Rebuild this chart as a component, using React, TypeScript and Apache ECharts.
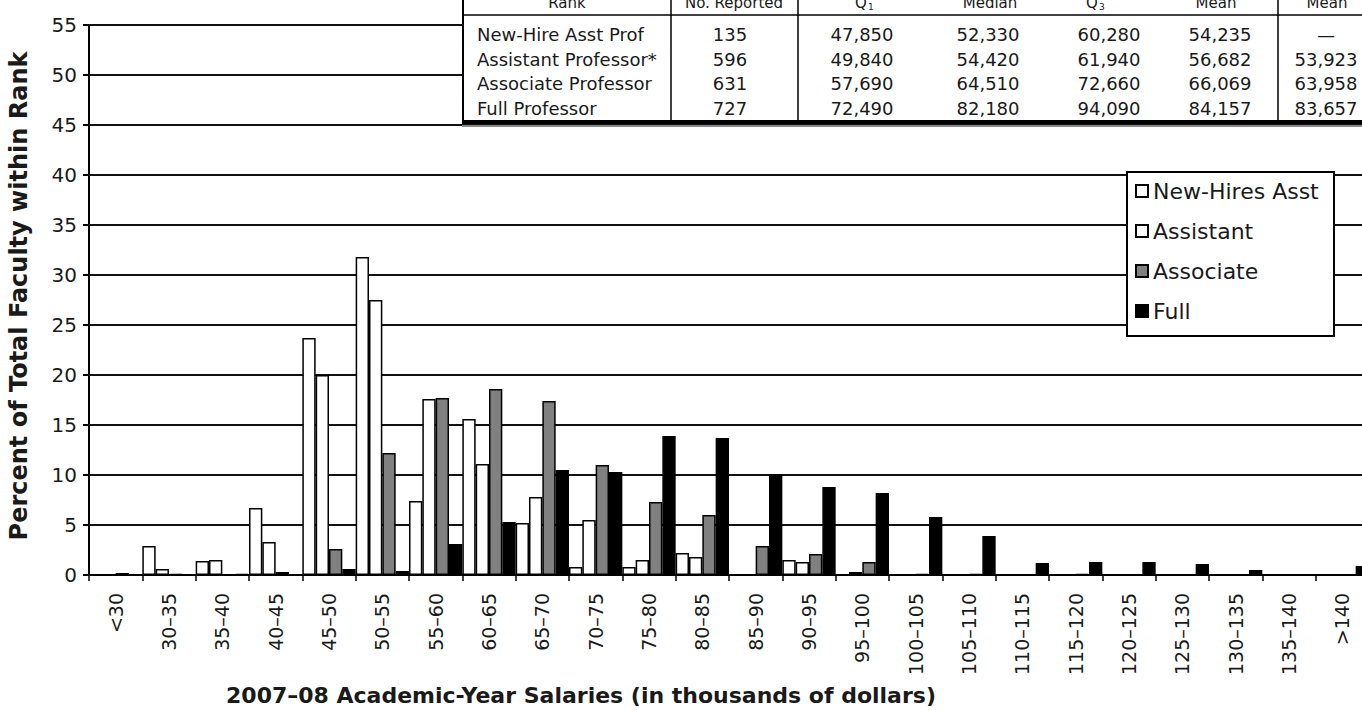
import React, { useEffect, useRef } from 'react';
import * as echarts from 'echarts';

const categories = ['<30', '30–35', '35–40', '40–45', '45–50', '50–55', '55–60', '60–65', '65–70', '70–75', '75–80', '80–85', '85–90', '90–95', '95–100', '100–105', '105–110', '110–115', '115–120', '120–125', '125–130', '130–135', '135–140', '>140'];
const newHireAsst = [0, 2.9, 1.4, 6.7, 23.7, 31.8, 7.4, 15.6, 5.2, 0.8, 0.8, 2.2, 0, 1.5, 0, 0, 0, 0, 0, 0, 0, 0, 0, 0];
const assistant = [0, 0.6, 1.5, 3.3, 20.0, 27.5, 17.6, 11.1, 7.8, 5.5, 1.5, 1.8, 0, 1.3, 0.3, 0, 0, 0, 0, 0, 0, 0, 0, 0];
const associate = [0.2, 0.1, 0, 0.3, 2.6, 12.2, 17.7, 18.6, 17.4, 11.0, 7.3, 6.0, 2.9, 2.1, 1.3, 0.1, 0.1, 0, 0.1, 0, 0, 0, 0, 0];
const full = [0, 0, 0.1, 0, 0.6, 0.4, 3.1, 5.3, 10.5, 10.3, 13.9, 13.7, 10.1, 8.8, 8.2, 5.8, 3.9, 1.2, 1.3, 1.3, 1.1, 0.5, 0, 0.9];

const seriesNames = ['New-Hires Asst', 'Assistant', 'Associate', 'Full'];
const yMin = 0;
const yMax = 55;
const yInterval = 5;
const yTitle = 'Percent of Total Faculty within Rank';
const xTitle = '2007–08 Academic-Year Salaries (in thousands of dollars)';

const tableRanks = ['New-Hire Asst Prof', 'Assistant Professor*', 'Associate Professor', 'Full Professor'];
const tableReported = ['135', '596', '631', '727'];
const tableQ1 = ['47,850', '49,840', '57,690', '72,490'];
const tableMedian = ['52,330', '54,420', '64,510', '82,180'];
const tableQ3 = ['60,280', '61,940', '72,660', '94,090'];
const tableMean = ['54,235', '56,682', '66,069', '84,157'];
const tableMean2 = ['—', '53,923', '63,958', '83,657'];

const FONT = '"DejaVu Sans", Verdana, sans-serif';
const TXT = '#1a1a1a';

function txt(text: string, x: number, y: number, size: number, align: string, extra: any = {}) {
  return {
    type: 'text',
    z: 60,
    style: {
      text, x, y, fill: TXT, fontSize: size, fontFamily: FONT,
      align, verticalAlign: 'middle', textAlign: align, textVerticalAlign: 'middle',
      ...extra,
    },
  };
}

function buildTable() {
  const els: any[] = [];
  els.push({ type: 'rect', z: 50, shape: { x: 463, y: -20, width: 960, height: 143 }, style: { fill: '#fff', stroke: '#000', lineWidth: 2 } });
  els.push({ type: 'line', z: 55, shape: { x1: 463, y1: 15, x2: 1420, y2: 15 }, style: { stroke: '#000', lineWidth: 1.5 } });
  [671, 798, 1278].forEach((x) => {
    els.push({ type: 'line', z: 55, shape: { x1: x, y1: -20, x2: x, y2: 123 }, style: { stroke: '#000', lineWidth: 1.5 } });
  });
  els.push({ type: 'line', z: 56, shape: { x1: 462, y1: 122, x2: 1420, y2: 122 }, style: { stroke: '#000', lineWidth: 4 } });
  els.push({ type: 'line', z: 56, shape: { x1: 462, y1: 126, x2: 1420, y2: 126 }, style: { stroke: '#888', lineWidth: 2 } });

  const hy = 3;
  els.push(txt('Rank', 567, hy, 15, 'center'));
  els.push(txt('No. Reported', 734, hy, 15, 'center'));
  els.push(txt('Q', 861, hy, 15, 'center'));
  els.push(txt('1', 868, hy + 4, 9, 'left'));
  els.push(txt('Median', 990, hy, 15, 'center'));
  els.push(txt('Q', 1092, hy, 15, 'center'));
  els.push(txt('3', 1099, hy + 4, 9, 'left'));
  els.push(txt('Mean', 1216, hy, 15, 'center'));
  els.push(txt('Mean', 1327, hy, 15, 'center'));

  tableRanks.forEach((r, i) => {
    const y = 34.5 + i * 24.6;
    els.push(txt(r, 477, y, 18, 'left'));
    els.push(txt(tableReported[i], 730, y, 18, 'center'));
    els.push(txt(tableQ1[i], 862, y, 18, 'center'));
    els.push(txt(tableMedian[i], 988, y, 18, 'center'));
    els.push(txt(tableQ3[i], 1109, y, 18, 'center'));
    els.push(txt(tableMean[i], 1220, y, 18, 'center'));
    els.push(txt(tableMean2[i], 1326, y, 18, 'center'));
  });
  return els;
}

export default function App() {
  const ref = useRef<HTMLDivElement>(null);
  useEffect(() => {
    document.body.style.margin = '0';
    const chart = echarts.init(ref.current!, null, { renderer: 'svg' });
    const colors = ['#ffffff', '#ffffff', '#808080', '#000000'];
    const datas = [newHireAsst, assistant, associate, full];
    chart.setOption({
      animation: false,
      backgroundColor: '#fff',
      grid: { left: 89, top: 25, width: 1280, height: 550, containLabel: false, outerBoundsMode: 'none' },
      legend: {
        orient: 'vertical',
        left: 1127,
        top: 172,
        padding: [6, 6, 12, 8],
        itemGap: 14,
        itemWidth: 12,
        itemHeight: 12,
        icon: 'rect',
        backgroundColor: '#fff',
        borderColor: '#000',
        borderWidth: 2,
        borderRadius: 0,
        z: 20,
        textStyle: { fontFamily: FONT, fontSize: 22, color: TXT, lineHeight: 26, width: 175 },
        data: seriesNames,
      },
      xAxis: {
        type: 'category',
        data: categories,
        axisLine: { show: true, lineStyle: { color: '#000', width: 2 } },
        axisTick: { show: true, interval: 0, length: 6, lineStyle: { color: '#000', width: 1.5 } },
        axisLabel: {
          interval: 0,
          rotate: 90,
          margin: 18,
          fontFamily: FONT,
          fontSize: 19,
          color: TXT,
          padding: [14, 0, 0, 0],
        },
        splitLine: { show: false },
      },
      yAxis: {
        type: 'value',
        min: yMin,
        max: yMax,
        interval: yInterval,
        axisLine: { show: true, lineStyle: { color: '#000', width: 2 } },
        axisTick: { show: true, length: 6, lineStyle: { color: '#000', width: 2 } },
        axisLabel: { margin: 12, fontFamily: FONT, fontSize: 20, color: TXT },
        splitLine: { show: true, lineStyle: { color: '#111', width: 2 } },
      },
      series: datas.map((d, i) => ({
        name: seriesNames[i],
        type: 'bar',
        data: d,
        barGap: '0%',
        barCategoryGap: '0%',
        itemStyle: { color: colors[i], borderColor: '#000', borderWidth: 1.5 },
        emphasis: { disabled: true },
      })),
      graphic: [
        ...buildTable(),
        {
          type: 'text',
          z: 60,
          x: 19,
          y: 296,
          rotation: Math.PI / 2,
          style: {
            text: yTitle,
            x: 0, y: 0, fill: TXT, fontSize: 24, fontWeight: 'bold', fontFamily: FONT,
            align: 'center', verticalAlign: 'middle', textAlign: 'center', textVerticalAlign: 'middle',
          },
        },
        {
          type: 'text',
          z: 60,
          style: {
            text: xTitle,
            x: 581, y: 695, fill: TXT, fontSize: 22, fontWeight: 'bold', fontFamily: FONT,
            align: 'center', verticalAlign: 'middle', textAlign: 'center', textVerticalAlign: 'middle',
          },
        },
      ],
    });
    return () => chart.dispose();
  }, []);
  return <div ref={ref} style={{ position: 'fixed', left: 0, top: 0, width: 1362, height: 710 }} />;
}
